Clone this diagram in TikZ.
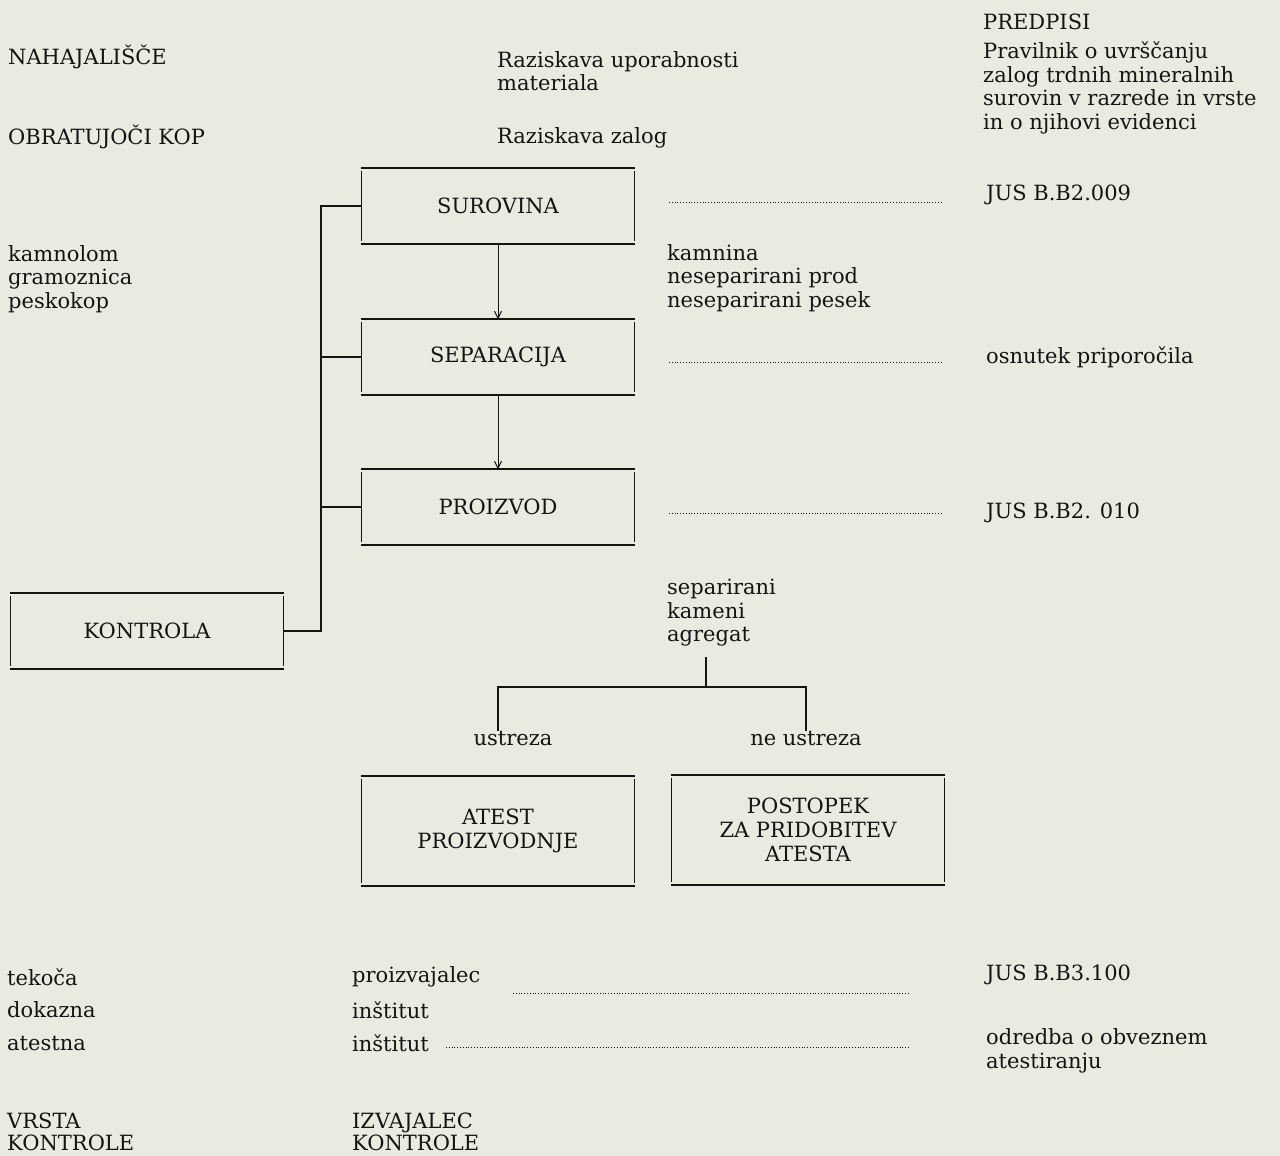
\documentclass[tikz,border=0pt]{standalone}
\usepackage{fontspec}
\setmainfont{DejaVu Serif}
\usepackage{tikz}
\usetikzlibrary{arrows.meta,positioning}
\definecolor{papir}{RGB}{233,235,224}
\definecolor{crnilo}{RGB}{20,20,18}

\begin{document}
\begin{tikzpicture}[x=1pt, y=-1pt,
    txt/.style={anchor=west, inner sep=0pt, align=left, text=crnilo, font=\fontsize{21}{23.5}\selectfont},
    lbl/.style={inner sep=0pt, text=crnilo, font=\fontsize{21}{23.5}\selectfont},
    blok/.style={minimum width=272pt, minimum height=75pt, align=center, text=crnilo, font=\fontsize{21}{24}\selectfont,
        append after command={
            ([xshift=-1pt]\tikzlastnode.north west) edge[draw=crnilo, line width=1.8pt] ([xshift=1pt]\tikzlastnode.north east)
            ([xshift=-1pt]\tikzlastnode.south west) edge[draw=crnilo, line width=1.8pt] ([xshift=1pt]\tikzlastnode.south east)
            ([yshift=-3pt]\tikzlastnode.north west) edge[draw=crnilo, line width=1.3pt] ([yshift=3pt]\tikzlastnode.south west)
            ([yshift=-3pt]\tikzlastnode.north east) edge[draw=crnilo, line width=1.3pt] ([yshift=3pt]\tikzlastnode.south east)}},
    arr/.style={-{Straight Barb[length=7pt,width=7pt]}, line width=1pt, draw=crnilo},
    veza/.style={line width=1.3pt, draw=crnilo},
    vodilo/.style={dotted, line width=0.8pt, draw=crnilo}
]
\fill[papir] (0,0) rectangle (1280,1156);
\useasboundingbox (0,0) rectangle (1280,1156);

% levi stolpec
\node[txt] (nahaj) at (8,57) {NAHAJALIŠČE};
\node[txt] (obrat) at (8,137) {OBRATUJOČI KOP};
\node[txt] (kamnolom) at (8,279) {kamnolom\\gramoznica\\peskokop};
\node[txt] (tekoca) at (7,977) {tekoča};
\node[txt] (dokazna) at (7,1010) {dokazna};
\node[txt] (atestna) at (7,1043) {atestna};
\node[txt, font=\fontsize{21}{21.5}\selectfont] (vrsta) at (7,1132) {VRSTA\\KONTROLE};

% raziskave
\node[txt] (razupor) at (497,71) {Raziskava uporabnosti\\materiala};
\node[txt] (razzalog) at (497,138) {Raziskava zalog};

% predpisi
\node[txt] (predpisi) at (983,22) {PREDPISI};
\node[txt] (pravilnik) at (983,88) {Pravilnik o uvrščanju\\zalog trdnih mineralnih\\surovin v razrede in vrste\\in o njihovi evidenci};
\node[txt] (jusa) at (986,195) {JUS B.B2.009};
\node[txt] (osnutek) at (986,357) {osnutek priporočila};
\node[txt] (jusb) at (986,513) {JUS B.B2. 010};
\node[txt] (jusc) at (986,975) {JUS B.B3.100};
\node[txt] (odredba) at (986,1051) {odredba o obveznem\\atestiranju};

% potek
\node[blok] (surovina) at (498,206) {SUROVINA};
\node[blok] (separacija) at (498,357) {SEPARACIJA};
\node[blok] (proizvod) at (498,507) {PROIZVOD};
\node[blok] (kontrola) at (147,631) {KONTROLA};
\node[txt] (kamnina) at (667,278) {kamnina\\neseparirani prod\\neseparirani pesek};
\node[txt] (separirani) at (667,613) {separirani\\kameni\\agregat};

\draw[arr] (surovina) -- (separacija);
\draw[arr] (separacija) -- (proizvod);

\coordinate (hrbet) at (321,206);
\draw[veza] (surovina.west) -- (hrbet) |- (kontrola.east);
\draw[veza] (separacija.west) -- (separacija.west -| hrbet);
\draw[veza] (proizvod.west) -- (proizvod.west -| hrbet);

% razcep
\node[blok, minimum height=110pt] (atest) at (498,831) {ATEST\\PROIZVODNJE};
\node[blok, minimum height=110pt] (postopek) at (808,830) {POSTOPEK\\ZA PRIDOBITEV\\ATESTA};
\node[lbl] (ustreza) at (513,738) {ustreza};
\node[lbl] (neustreza) at (806,738) {ne ustreza};

\coordinate (stem) at (706,657);
\coordinate (razcep) at (706,687);
\draw[veza] (stem) -- (razcep);
\draw[veza] (ustreza.north -| atest) |- (razcep) -| (neustreza.north);

% izvajalci
\node[txt] (proizv) at (352,977) {proizvajalec};
\node[txt] (instituta) at (352,1010) {inštitut};
\node[txt] (institutb) at (352,1043) {inštitut};
\node[txt, font=\fontsize{21}{21.5}\selectfont] (izvajalec) at (352,1132) {IZVAJALEC\\KONTROLE};

% vodila
\coordinate (d1) at (669,202);
\coordinate (d2) at (669,362);
\coordinate (d3) at (669,513);
\coordinate (d4) at (513,993);
\coordinate (d5) at (446,1047);
\draw[vodilo, shorten >=43pt] (d1) -- (d1 -| jusa.west);
\draw[vodilo, shorten >=43pt] (d2) -- (d2 -| osnutek.west);
\draw[vodilo, shorten >=43pt] (d3) -- (d3 -| jusb.west);
\draw[vodilo, shorten >=77pt] (d4) -- (d4 -| jusc.west);
\draw[vodilo, shorten >=77pt] (d5) -- (d5 -| odredba.west);
\end{tikzpicture}
\end{document}
